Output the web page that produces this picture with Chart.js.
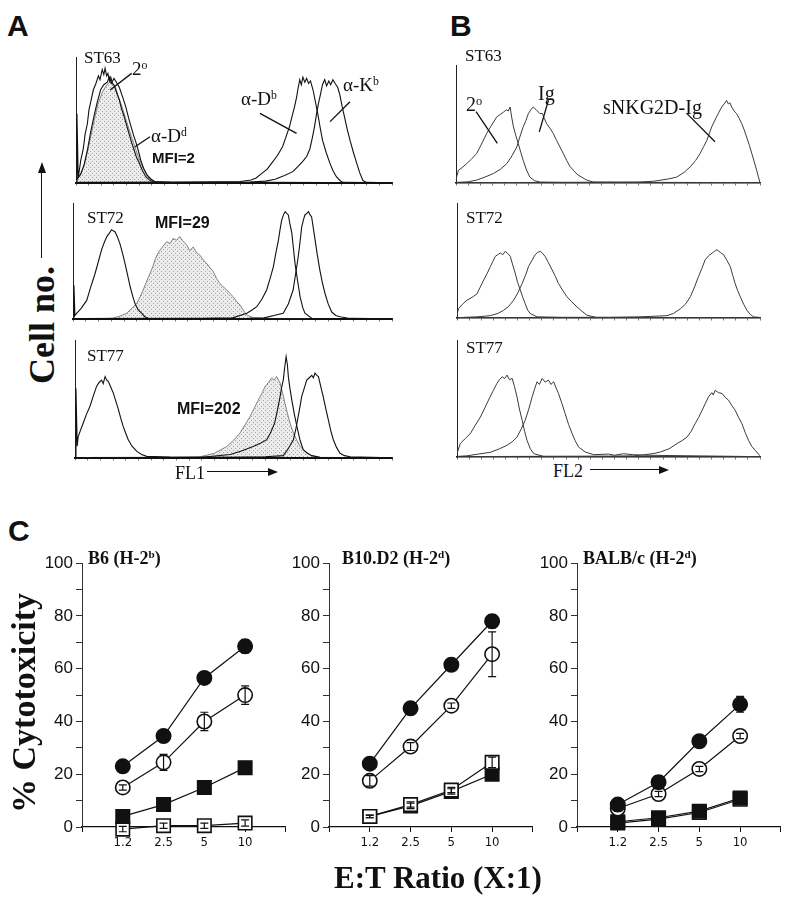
<!DOCTYPE html>
<html>
<head>
<meta charset="utf-8">
<script src="https://cdn.jsdelivr.net/npm/chart.js@4.4.1/dist/chart.umd.min.js"></script>
<style>
body { margin: 0; background: #fff; width: 800px; height: 900px; position: relative; overflow: hidden; }
canvas { position: absolute; }
.t { position: absolute; font-family: "Liberation Serif", "Times New Roman", serif; color: #111; white-space: nowrap; line-height: 1; }
.t sup { font-size: 62%; vertical-align: 0; position: relative; top: -0.5em; }
.s { position: absolute; font-family: "Liberation Sans", Arial, sans-serif; font-weight: bold; color: #111; white-space: nowrap; line-height: 1; }
.hl { position: absolute; height: 0; border-top: 1.6px solid #111; }
.vl { position: absolute; width: 0; border-left: 1.6px solid #111; }
.hr { position: absolute; width: 0; height: 0; border-left: 10px solid #111; border-top: 4px solid transparent; border-bottom: 4px solid transparent; }
.up { position: absolute; width: 0; height: 0; border-bottom: 11px solid #111; border-left: 4px solid transparent; border-right: 4px solid transparent; }
</style>
</head>
<body>
<canvas id="hA1"></canvas><canvas id="hA2"></canvas><canvas id="hA3"></canvas>
<canvas id="hB1"></canvas><canvas id="hB2"></canvas><canvas id="hB3"></canvas>
<canvas id="c1"></canvas><canvas id="c2"></canvas><canvas id="c3"></canvas>

<div class="s" style="left:7px;top:11px;font-size:30px">A</div>
<div class="s" style="left:450px;top:11px;font-size:30px">B</div>
<div class="s" style="left:8px;top:516px;font-size:30px">C</div>

<div class="t" style="left:84px;top:49px;font-size:17px">ST63</div>
<div class="t" style="left:132px;top:59px;font-size:19px">2<sup>o</sup></div>
<div class="t" style="left:151px;top:126px;font-size:19px">α-D<sup>d</sup></div>
<div class="s" style="left:152px;top:150px;font-size:15px">MFI=2</div>
<div class="t" style="left:241px;top:89px;font-size:19px">α-D<sup>b</sup></div>
<div class="t" style="left:343px;top:75px;font-size:19px">α-K<sup>b</sup></div>
<div class="t" style="left:87px;top:209px;font-size:17px">ST72</div>
<div class="s" style="left:155px;top:215px;font-size:16px">MFI=29</div>
<div class="t" style="left:87px;top:347px;font-size:17px">ST77</div>
<div class="s" style="left:177px;top:401px;font-size:16px">MFI=202</div>
<div class="t" style="left:175px;top:464px;font-size:18px">FL1</div>
<div class="hl" style="left:207px;top:471px;width:62px"></div>
<div class="hr" style="left:268px;top:468px"></div>

<div class="t" style="left:465px;top:47px;font-size:17px">ST63</div>
<div class="t" style="left:466px;top:94px;font-size:20px">2<sup>o</sup></div>
<div class="t" style="left:538px;top:83px;font-size:20px">Ig</div>
<div class="t" style="left:603px;top:97px;font-size:20px">sNKG2D-Ig</div>
<div class="t" style="left:466px;top:209px;font-size:17px">ST72</div>
<div class="t" style="left:466px;top:339px;font-size:17px">ST77</div>
<div class="t" style="left:553px;top:462px;font-size:18px">FL2</div>
<div class="hl" style="left:590px;top:469px;width:70px"></div>
<div class="hr" style="left:659px;top:466px"></div>

<div class="t" style="left:42px;top:325px;font-size:36px;font-weight:bold;transform:translate(-50%,-50%) rotate(-90deg)">Cell no.</div>
<div class="vl" style="left:41px;top:172px;height:86px"></div>
<div class="up" style="left:38px;top:162px"></div>

<div class="t" style="left:88px;top:549px;font-size:18px;font-weight:bold">B6 (H-2<sup>b</sup>)</div>
<div class="t" style="left:342px;top:549px;font-size:18px;font-weight:bold">B10.D2 (H-2<sup>d</sup>)</div>
<div class="t" style="left:583px;top:549px;font-size:18px;font-weight:bold">BALB/c (H-2<sup>d</sup>)</div>
<div class="t" style="left:24px;top:703px;font-size:34px;font-weight:bold;transform:translate(-50%,-50%) rotate(-90deg)">% Cytotoxicity</div>
<div class="t" style="left:438px;top:862px;font-size:31px;font-weight:bold;transform:translateX(-50%)">E:T Ratio (X:1)</div>

<script>
// ---- panel A histograms: [channel 0-100, count 0-100] ----
const a63Sec = [[0,0],[0.3,55],[0.7,4],[1.5,18],[2.3,27],[2.9,39],[3.6,47],[4.1,58],[4.8,66],[5.5,74],[6.3,79],[7.1,85],[7.6,82],[8.3,90],[8.8,86],[9.2,91],[9.7,85],[10.1,87],[10.6,81],[11,84],[11.5,79],[12,78],[12.8,72],[13.7,66],[14.4,59],[15.2,53],[16,46],[16.8,39],[17.6,32],[18.4,26],[19.2,20],[20,16],[21,10],[22.1,5],[23.2,2.5],[24.2,1],[28,0.6],[40,0.4],[60,0.5],[100,0.2]];
const a63Dd = [[0,2],[1.5,7],[2.6,15],[3.6,26],[4.6,40],[5.7,53],[6.7,64],[7.8,74],[8.8,78],[9.9,80],[10.5,84],[11.2,79],[12,83],[12.8,80],[13.7,76],[14.8,68],[15.8,60],[16.6,52],[17.4,45],[18.2,38],[19,32],[19.8,25],[20.5,18],[21.5,11],[22.6,6],[23.8,3],[25,1],[30,0.5],[50,0.4],[100,0.2]];
const a63Iso = [[0,2],[1,5],[2.5,13],[4,29],[5.5,47],[7,63],[8.5,73],[9.5,77],[10.5,80],[11.5,79],[12.5,76],[13.5,68],[14.5,61],[16,49],[17.5,37],[19,26],[20.5,16],[22,8],[23.5,3],[25,1],[27,0.3],[100,0]];
const a63Db = [[0,0.5],[20,0.6],[35,0.8],[45,1],[52,1.2],[55.4,2.4],[57,4],[59,8],[60.5,11],[62,16],[63.8,22],[65.4,29],[66.5,37],[67.6,45],[68.4,53],[69.2,61],[69.8,68],[70.2,74],[70.8,82],[71.3,78],[71.8,84],[72.4,80],[73,83],[73.6,79],[74.2,81],[75,74],[75.8,64],[76.5,55],[77.2,45],[78,34],[79.2,24],[80.3,16],[81.3,10],[82.4,5],[83.5,2],[84.5,0.5],[100,0.2]];
const a63Kb = [[0,0.4],[40,0.6],[55,0.8],[60,1.5],[63,3],[66,6],[68.6,9],[70.2,13],[71.7,17],[73,21],[74,27],[74.8,36],[75.5,45],[76.2,56],[76.8,64],[77.5,72],[78,78],[78.7,82],[79.3,77],[80,81],[80.6,78],[81.3,82],[82,79],[82.8,76],[83.5,70],[84.2,61],[85,52],[85.8,43],[86.7,34],[87.7,25],[88.8,16],[89.8,8],[90.8,2],[92,0.5],[100,0.2]];

const a72Sec = [[0,0],[0.3,29],[0.6,3],[1.2,5],[2.5,9],[4.3,16],[5.5,27],[6.9,39],[8,50],[9,60],[9.8,66],[10.6,71],[11.4,74],[12.1,77],[12.6,76],[13.2,75],[13.9,71],[14.7,65],[15.5,57],[16.3,48],[17.1,38],[17.9,28],[18.7,20],[19.4,13.5],[20.4,8],[21.5,5],[22.5,2],[23.6,0.6],[30,0.4],[100,0.2]];
const a72Iso = [[0,0.3],[10,0.5],[12.6,0.8],[14.7,2.5],[16.8,5],[18.4,9],[20,13.5],[21,19],[22,25],[23,32],[24.1,39],[25,45],[25.7,51],[26.5,56],[27.3,59.5],[28.3,63],[29.4,66.7],[30.4,65],[31.4,69.5],[32.4,68],[33.5,71],[34.5,67],[35.6,64],[36.6,59],[37.7,62],[38.8,57],[39.8,55],[40.8,51],[41.9,48],[43,44],[44,40.8],[45,35],[46,30.7],[47,28],[48.2,25],[49.2,22],[50.3,19],[51.3,15],[52.4,12],[53.5,7],[54.5,3.5],[56.6,1],[60,0.5],[100,0.2]];
const a72Db = [[0,0.3],[40,0.5],[50,1],[54.5,5],[56,7.5],[57.6,10.6],[59.2,17],[60.7,25],[61.8,35],[62.8,45],[63.6,57],[64.4,68],[64.9,77],[65.4,85],[66,90],[66.5,92.5],[67,91],[67.5,89.7],[68,82],[68.6,74],[69.1,61],[69.6,48],[70.4,33],[71.2,19],[72,10],[72.7,5],[74.8,0.6],[100,0.2]];
const a72Kb = [[0,0.3],[55,0.5],[59.9,1],[63,3],[65.9,5],[67.5,13],[69,25],[69.8,39],[70.6,53.7],[71.2,67],[71.7,79.5],[72.2,85],[72.7,89.7],[73.3,91],[73.8,92.5],[74.3,90],[74.8,88],[75.3,79],[75.9,68],[76.6,55],[77.4,42],[78.2,31],[79,22],[80,13],[81.1,6],[82.4,3],[83.7,2],[86.8,0.5],[100,0.2]];

const a77Sec = [[0,0],[0.3,59],[0.7,10],[1,18],[1.8,24],[2.6,29.7],[3.6,37],[4.7,43.7],[5.7,52],[6.8,60.7],[7.6,64],[8.4,66],[8.9,63],[9.5,69],[10,66],[10.5,65],[11.3,60],[12.1,55],[12.9,48],[13.7,41],[14.4,34],[15.2,26.8],[16,21],[16.8,15.5],[18,10],[19.5,5.6],[21,3],[22.6,1.4],[30,0.8],[40,0.6],[100,0.2]];
const a77Iso = [[0,0.3],[30,0.5],[39.4,1],[44,4],[47.9,9.8],[50,15],[52,21],[53.6,28],[55.2,35],[56.5,42],[57.8,49],[59,55],[60,60.7],[61,64],[62,67.8],[62.8,66],[63.6,69],[64.2,66],[64.7,63.5],[65.5,55],[66.2,46.6],[67,38],[67.8,29.7],[68.8,22],[69.9,15.5],[71,10],[72,7],[73.4,4],[74.7,2],[77,0.5],[100,0.2]];
const a77Db = [[0,0.3],[40,0.6],[49,3],[52.5,6],[56.2,9.8],[58.5,12.5],[60.5,15.5],[61.8,22],[63,29.7],[63.9,41],[64.7,52],[65.2,60],[65.7,66],[66.2,78],[66.6,86],[67,79],[67.3,69],[67.8,59],[68.4,49],[69.2,37],[70,26.8],[71,15],[72,7],[73.3,4],[74.7,2],[77.3,0.5],[100,0.2]];
const a77Kb = [[0,0.3],[50,0.5],[60,1],[65.7,2],[67.3,8],[68.9,15.5],[69.7,25],[70.4,35],[71,44],[71.5,52],[72.3,59],[73.1,66],[73.9,68],[74.7,70],[75.2,68],[75.7,72],[76.3,70],[76.8,69],[77.5,61],[78.3,52],[79.1,42],[79.9,32.5],[80.7,23],[81.5,15.5],[82.5,9],[83.6,4],[85,2],[86.8,1],[100,0.2]];

// ---- panel B histograms ----
const b63Sec = [[0,3],[0.8,10.8],[2,13],[3.5,16.4],[5,20],[6.8,25],[8.4,33],[10.1,42],[11.7,49],[13.4,56],[14.5,58],[15.6,60],[16.5,62],[17.2,61],[17.8,64.4],[18.3,56],[18.9,47.5],[19.7,40],[20.5,33.4],[21.3,26],[22.1,19.2],[23.2,11],[24.3,5],[25.8,2],[27.6,0.8],[35,0.5],[100,0.2]];
const b63Ig = [[0,0.5],[4,1],[6.8,2.5],[9.5,5],[12.3,8],[14.5,11.5],[16.7,16.4],[18.4,23],[20,30.5],[21,39],[22.1,47.5],[23,53],[23.8,58.8],[24.6,62],[25.4,64.4],[26.4,62],[27.6,58.8],[28.4,59],[29,55],[29.8,50.3],[31,46],[32,42],[33.1,36],[34.2,30.5],[35.3,25],[36.4,19.2],[37.5,14],[38.6,10.8],[40,7],[41.3,5],[43,2.5],[45.1,0.8],[55,0.6],[100,0.3]];
const b63Nk = [[0,0.3],[45,0.6],[60,0.8],[65,1.5],[67.1,2.3],[70,3.5],[72.6,5],[75,9],[77,13.6],[78.8,19],[80.3,25],[81.5,31],[82.5,36],[84.1,47.5],[85.7,56],[86.5,60],[87.4,64.4],[88.2,67],[89,70],[89.6,67],[90.1,68],[90.7,64.4],[91.5,61],[92.3,58.8],[93.1,55],[94,50.3],[94.8,45],[95.6,39],[96.5,32],[97.3,25],[98.1,18],[98.9,10.8],[99.5,5],[100,0]];

const b72Sec = [[0,3],[0.5,8],[1.8,12],[3.3,15.5],[5,18],[6.6,21],[7.7,27],[8.8,33],[10,39],[11,44.7],[11.8,49],[12.6,53.5],[13.4,55],[14.3,56.5],[15.1,55],[15.9,58],[16.8,56],[17.6,53.5],[18.4,46],[19.2,39],[20,31],[20.9,24.3],[21.7,18],[22.5,12.6],[23.3,7],[24.2,3.8],[26.4,1],[35,0.5],[100,0.2]];
const b72Ig = [[0,0.3],[6.6,1],[11,2],[13.5,4],[15.4,6.7],[17,10],[18.7,15.5],[20.1,22],[21.5,30],[22.6,37],[23.6,44.7],[24.7,50],[25.8,55],[26.6,57],[27.5,58],[28.3,56],[29.1,53.5],[30.2,48],[31.4,41.8],[32.5,36],[33.5,30],[34.9,24],[36.3,18.4],[37.9,14],[39.6,9.6],[41.2,6],[42.9,2.4],[46,0.5],[100,0.2]];
const b72Nk = [[0,0.3],[50,0.6],[60,1],[65,1.5],[69.3,2],[71.5,4],[73.7,8],[75.4,12],[77,18.4],[78.4,27],[79.7,36],[80.8,43],[81.9,50.6],[83,54],[84.2,56.5],[85,58],[85.8,59.4],[86.9,57],[88,55],[89.1,50],[90.2,44.7],[91,37],[91.8,30],[92.6,24],[93.5,18.4],[94.6,12],[95.7,6.7],[96.8,3],[97.9,1],[100,0.5]];

const b77Sec = [[0,3],[1.1,11.5],[2.8,16],[4.4,20],[6,27],[7.7,34],[9,41],[10.4,48.6],[11.8,56],[13.2,63],[14,66],[14.9,68.6],[15.7,67],[16.5,70],[17.3,66],[18.2,67.2],[19,60],[19.8,51.4],[20.6,41],[21.5,31.4],[22.3,22],[23.1,14.3],[24.2,7],[25.3,2.9],[28.6,0.5],[40,0.4],[100,0.2]];
const b77Ig = [[0,0.5],[3.3,1],[7,2.5],[11,4],[14,7],[16.5,10],[18.2,13],[19.8,17],[21.2,24],[22.5,31.4],[23.7,41],[24.8,51.4],[25.6,58],[26.4,64.3],[27.2,62],[28.1,67.2],[29.1,64],[30.2,65.7],[31,62],[31.9,64.3],[32.7,59],[33.5,54.3],[34.6,46],[35.7,37],[36.8,28],[38,20],[39,14],[40.1,8.6],[42.3,4.3],[45.1,2],[50,2.5],[52,1.5],[55,2.8],[58,2],[62,1.5],[100,0.3]];
const b77Nk = [[0,0.3],[50,0.8],[58.3,1],[62,2],[65,3],[67.1,4.3],[70,7],[72.6,11.5],[74.3,14],[75.9,17],[77.3,22],[78.6,28.6],[79.8,34],[80.9,40],[82,46],[83,51.4],[84.1,55],[84.6,53],[85.2,57],[86.3,55],[87.5,54.3],[88.5,51],[89.6,48.6],[90.7,44],[91.8,40],[92.9,34],[94,28.6],[95.1,21],[96.2,14.3],[97.3,9],[98.4,5.7],[100,1]];

// leader lines for the labels, in channel/count units
const a63Leaders = [[[10.8,73.8],[17.6,87]], [[18.7,28.8],[23.4,36.7]], [[58.2,55.3],[69.8,39.4]], [[86.7,64.5],[80.4,48.7]]];
const b63Leaders = [[[6.6,60.4],[13.6,33.6]], [[30.4,70.1],[27.4,43.3]], [[75.9,59],[85.2,35]]];

// ---- panel C: % cytotoxicity at E:T ratios ----
const etRatio = ['1.2', '2.5', '5', '10'];
const b6Fc = [23, 34.5, 56.5, 68.5],   b6FcErr = [1, 1.5, 1, 2.5];
const b6Oc = [15, 24.5, 40, 50],       b6OcErr = [1, 3, 3.5, 3.5];
const b6Fs = [4, 8.5, 15, 22.5],       b6FsErr = [1, 2.5, 1, 1.5];
const b6Os = [-0.8, 0.5, 0.5, 1.5],    b6OsErr = [1, 1, 1, 1.2];
const d2Fc = [24, 45, 61.5, 78],       d2FcErr = [1, 1, 1, 2.5];
const d2Oc = [17.5, 30.5, 46, 65.5],   d2OcErr = [2, 1.5, 1, 8.5];
const d2Fs = [4, 8, 13.5, 20],         d2FsErr = [0.5, 1, 1, 1];
const d2Os = [4, 8.5, 14, 24.5],       d2OsErr = [0.5, 1, 1, 2];
const bcFc = [8.5, 17, 32.5, 46.5],    bcFcErr = [1, 2.5, 1, 3];
const bcOc = [7, 12.5, 22, 34.5],      bcOcErr = [1, 1, 1, 1];
const bcFs = [2, 3.5, 6, 11],          bcFsErr = [1, 1, 1, 1];
const bcOs = [1.5, 3, 5.5, 10.5],      bcOsErr = [1, 1, 1, 1];

const INK = '#111';

function dotPattern(ctx) {
  const c = document.createElement('canvas');
  c.width = 4; c.height = 4;
  const g = c.getContext('2d');
  g.fillStyle = '#ececec'; g.fillRect(0, 0, 4, 4);
  g.fillStyle = '#a2a2a2'; g.fillRect(0, 0, 1, 1); g.fillRect(2, 2, 1, 1);
  return ctx.createPattern(c, 'repeat');
}

function curve(pts, color, w, extra) {
  return Object.assign({
    data: pts.map(p => ({x: p[0], y: p[1]})),
    borderColor: color, borderWidth: w, pointRadius: 0, fill: false, tension: 0
  }, extra || {});
}

const leaderPlugin = {
  id: 'leaders',
  afterDraw(chart, args, opts) {
    if (!opts.lines) return;
    const {ctx, scales: {x, y}} = chart;
    ctx.save();
    ctx.strokeStyle = INK; ctx.lineWidth = 1.3;
    opts.lines.forEach(l => {
      ctx.beginPath();
      ctx.moveTo(x.getPixelForValue(l[0][0]), y.getPixelForValue(l[0][1]));
      ctx.lineTo(x.getPixelForValue(l[1][0]), y.getPixelForValue(l[1][1]));
      ctx.stroke();
    });
    ctx.restore();
  }
};

// f = [left, top, right, bottom] of the plot frame on the page
function hist(id, f, lines, iso, lineColor, base, leaders) {
  const cv = document.getElementById(id);
  cv.width = f[2] - f[0] + 4;
  cv.height = f[3] - f[1] + 6;
  cv.style.left = (f[0] - 2) + 'px';
  cv.style.top = (f[1] - 2) + 'px';
  const ctx = cv.getContext('2d');
  const sets = lines.map(p => curve(p, lineColor, lineColor === INK ? 1.1 : 1));
  if (iso) sets.push(curve(iso, '#666', 0.8, {fill: 'origin', backgroundColor: dotPattern(ctx), order: 10}));
  new Chart(ctx, {
    type: 'line',
    data: {datasets: sets},
    options: {
      responsive: false, animation: false,
      layout: {padding: {left: 2, right: 2, top: 2, bottom: 0}},
      plugins: {legend: {display: false}, tooltip: {enabled: false}, leaders: {lines: leaders}},
      scales: {
        x: {type: 'linear', min: 0, max: 100,
            afterFit: s => { s.height = 4; },
            ticks: {display: false, stepSize: 4},
            grid: {drawOnChartArea: false, tickLength: 2.5, color: '#555', lineWidth: 0.8},
            border: {color: INK, width: base}},
        y: {min: 0, max: 100,
            afterFit: s => { s.width = 0; },
            ticks: {display: false},
            grid: {display: false},
            border: {color: '#222', width: 1}}
      }
    },
    plugins: [leaderPlugin]
  });
}

hist('hA1', [76, 57, 392, 183], [a63Sec, a63Dd, a63Db, a63Kb], a63Iso, INK, 2, a63Leaders);
hist('hA2', [73, 203, 392, 319], [a72Sec, a72Db, a72Kb], a72Iso, INK, 2);
hist('hA3', [75, 340, 392, 458], [a77Sec, a77Db, a77Kb], a77Iso, INK, 2);
hist('hB1', [456, 65, 760, 183], [b63Sec, b63Ig, b63Nk], null, '#3a3a3a', 1.6, b63Leaders);
hist('hB2', [457, 203, 760, 318], [b72Sec, b72Ig, b72Nk], null, '#3a3a3a', 1.6);
hist('hB3', [457, 340, 760, 457], [b77Sec, b77Ig, b77Nk], null, '#3a3a3a', 1.6);

const errBars = {
  id: 'errBars',
  afterDatasetsDraw(chart) {
    const {ctx, scales: {x, y}} = chart;
    ctx.save();
    ctx.strokeStyle = INK; ctx.lineWidth = 1.2;
    chart.data.datasets.forEach(ds => {
      ds.data.forEach((p, i) => {
        const e = ds.errs[i];
        if (!e) return;
        const px = x.getPixelForValue(p.x);
        const y1 = y.getPixelForValue(p.y - e), y2 = y.getPixelForValue(p.y + e);
        ctx.beginPath();
        ctx.moveTo(px, y1); ctx.lineTo(px, y2);
        ctx.moveTo(px - 4, y1); ctx.lineTo(px + 4, y1);
        ctx.moveTo(px - 4, y2); ctx.lineTo(px + 4, y2);
        ctx.stroke();
      });
    });
    ctx.restore();
  }
};

function series(vals, errs, style, filled) {
  return {
    data: vals.map((v, i) => ({x: i + 1, y: v})),
    errs: errs,
    borderColor: INK, borderWidth: 1.2, tension: 0, clip: 14,
    pointStyle: style, pointRadius: style === 'rect' ? 9.5 : 7.2,
    pointBackgroundColor: filled ? INK : '#fff',
    pointBorderColor: INK, pointBorderWidth: 1.6
  };
}

function cyto(id, left, sets) {
  const cv = document.getElementById(id);
  cv.width = 260; cv.height = 307;
  cv.style.left = left + 'px'; cv.style.top = '550px';
  new Chart(cv, {
    type: 'line',
    data: {datasets: sets},
    options: {
      responsive: false, animation: false,
      layout: {padding: {top: 10, right: 5, left: 0, bottom: 0}},
      plugins: {legend: {display: false}, tooltip: {enabled: false}},
      scales: {
        x: {type: 'linear', min: 0, max: 5,
            afterFit: s => { s.height = 30; },
            ticks: {stepSize: 1, autoSkip: false, maxRotation: 0, padding: 3, color: INK,
                    font: {family: '"Liberation Sans Narrow", "DejaVu Sans Condensed", sans-serif', size: 13},
                    callback: v => etRatio[v - 1] || ''},
            grid: {drawOnChartArea: false, tickLength: 5, color: INK, lineWidth: 1},
            border: {color: INK, width: 1.3}},
        y: {min: 0, max: 100,
            afterFit: s => { s.width = 45; },
            ticks: {stepSize: 10, autoSkip: false, padding: 3, color: INK,
                    font: {family: '"Liberation Sans", Arial, sans-serif', size: 17},
                    callback: v => v % 20 === 0 ? v : ''},
            grid: {drawOnChartArea: false, tickLength: 6, color: '#333', lineWidth: 1},
            border: {color: '#333', width: 1}}
      }
    },
    plugins: [errBars]
  });
}

cyto('c1', 37, [series(b6Fc, b6FcErr, 'circle', true), series(b6Oc, b6OcErr, 'circle', false),
                series(b6Fs, b6FsErr, 'rect', true), series(b6Os, b6OsErr, 'rect', false)]);
cyto('c2', 284, [series(d2Fc, d2FcErr, 'circle', true), series(d2Oc, d2OcErr, 'circle', false),
                 series(d2Os, d2OsErr, 'rect', false), series(d2Fs, d2FsErr, 'rect', true)]);
cyto('c3', 532, [series(bcFc, bcFcErr, 'circle', true), series(bcOc, bcOcErr, 'circle', false),
                 series(bcFs, bcFsErr, 'rect', true), series(bcOs, bcOsErr, 'rect', false)]);
</script>
</body>
</html>
